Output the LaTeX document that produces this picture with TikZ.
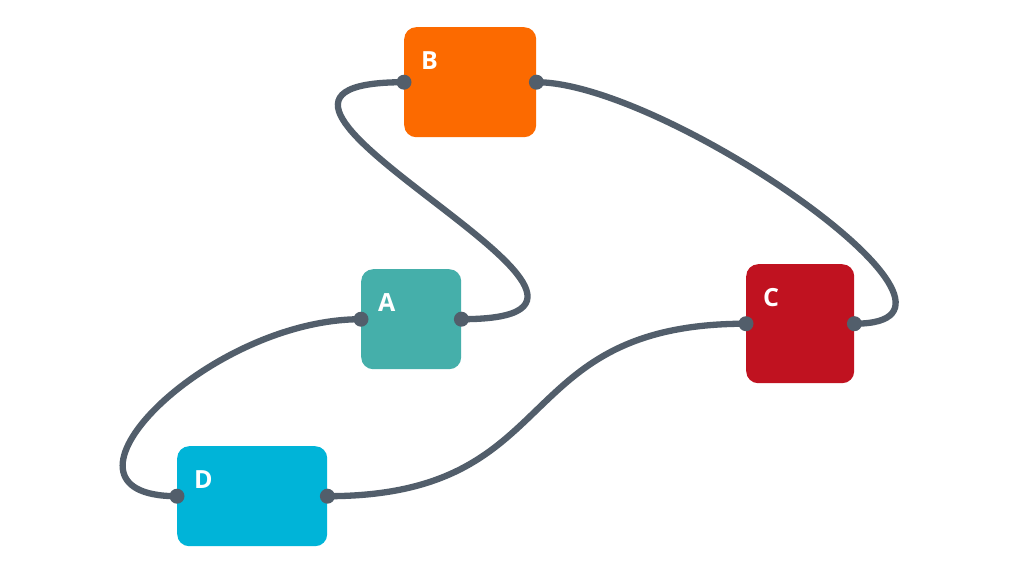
\documentclass[tikz,border=0pt]{standalone}
\usepackage{fontspec}
\newfontfamily\lblfont{Open Sans}
\begin{document}
\begin{tikzpicture}[x=1pt,y=-1pt,
  box/.style={draw=none, rounded corners=12pt, anchor=north west, inner sep=0pt},
  lbl/.style={anchor=north west, inner sep=0pt, text=white, font=\lblfont\bfseries\fontsize{25}{25}\selectfont},
  wire/.style={draw=wirec, line width=6.3pt},
  port/.style={circle, fill=wirec, inner sep=0pt, minimum size=15pt}]
\definecolor{bcol}{HTML}{FC6A00}
\definecolor{acol}{HTML}{45AFAA}
\definecolor{ccol}{HTML}{C01220}
\definecolor{dcol}{HTML}{00B4D8}
\definecolor{wirec}{HTML}{525E6B}
\useasboundingbox[fill=white] (0,0) rectangle (1030,562);
% boxes
\node[box, fill=bcol, minimum width=132pt, minimum height=110pt] (B) at (404,27) {};
\node[box, fill=acol, minimum width=100pt, minimum height=100pt] (A) at (361,269) {};
\node[box, fill=ccol, minimum width=108pt, minimum height=119pt] (C) at (746,264) {};
\node[box, fill=dcol, minimum width=150pt, minimum height=100pt] (D) at (177,446) {};
% labels
\node[lbl] (Bl) at ([xshift=17pt, yshift=-24pt]B.north west) {B};
\node[lbl] (Al) at ([xshift=17pt, yshift=-24pt]A.north west) {A};
\node[lbl] (Cl) at ([xshift=17pt, yshift=-24pt]C.north west) {C};
\node[lbl] (Dl) at ([xshift=17pt, yshift=-24pt]D.north west) {D};
% wires
\draw[wire] (B.west) .. controls +(-250,0) and +(250,0) .. (A.east);
\draw[wire] (B.east) .. controls +(130,0) and +(160,0) .. (C.east);
\draw[wire] (A.west) .. controls +(-155,0) and +(-145,0) .. (D.west);
\draw[wire] (D.east) .. controls +(240,0) and +(-240,0) .. (C.west);
% ports
\node[port] (Bpw) at (B.west) {};
\node[port] (Bpe) at (B.east) {};
\node[port] (Apw) at (A.west) {};
\node[port] (Ape) at (A.east) {};
\node[port] (Cpw) at (C.west) {};
\node[port] (Cpe) at (C.east) {};
\node[port] (Dpw) at (D.west) {};
\node[port] (Dpe) at (D.east) {};
\end{tikzpicture}
\end{document}
